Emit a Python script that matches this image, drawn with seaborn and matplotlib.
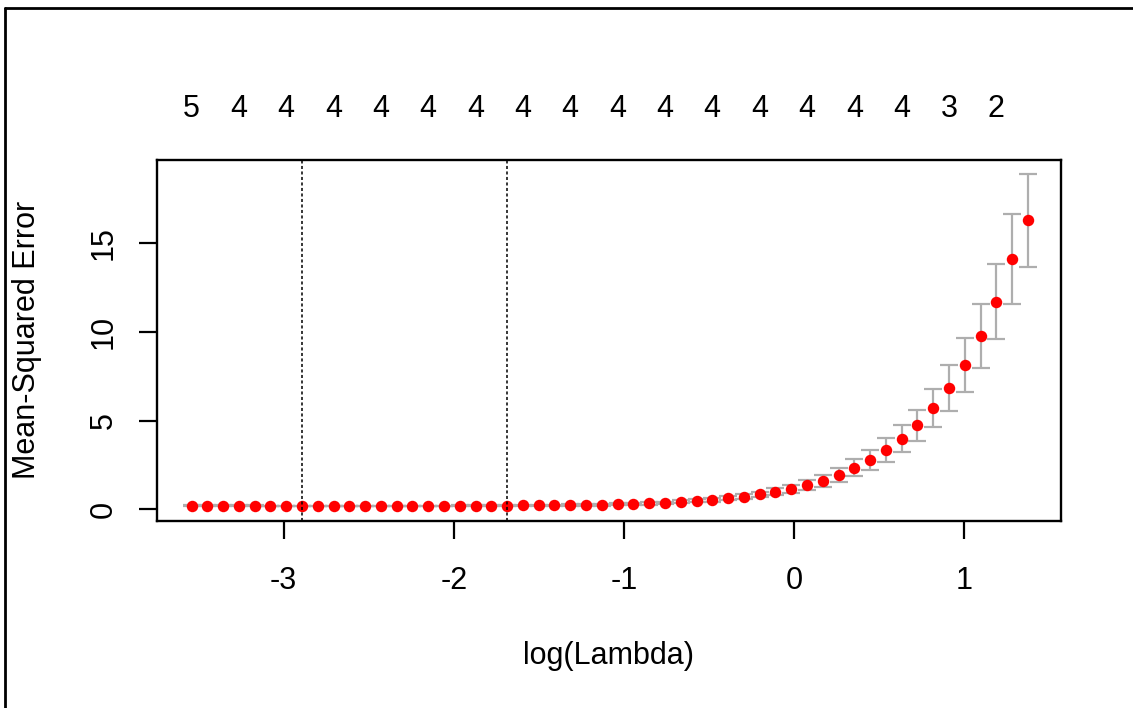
import matplotlib
matplotlib.use("Agg")
import matplotlib.pyplot as plt
from matplotlib.lines import Line2D
import seaborn as sns
import pandas as pd


# ── data ─────────────────────────────────────────────────────────────────
log_lambda = [
    -3.542, -3.449, -3.356, -3.264, -3.171, -3.078, -2.985, -2.892, -2.800, -2.707,
    -2.614, -2.521, -2.428, -2.336, -2.243, -2.150, -2.057, -1.964, -1.872, -1.779,
    -1.686, -1.593, -1.500, -1.408, -1.315, -1.222, -1.129, -1.036, -0.944, -0.851,
    -0.758, -0.665, -0.572, -0.480, -0.387, -0.294, -0.201, -0.108, -0.016, 0.077,
    0.170, 0.263, 0.356, 0.448, 0.541, 0.634, 0.727, 0.820, 0.912, 1.005,
    1.098, 1.191, 1.284, 1.376,
]
mse = [
    0.20, 0.20, 0.20, 0.20, 0.20, 0.19, 0.19, 0.19, 0.19, 0.19,
    0.19, 0.19, 0.19, 0.19, 0.19, 0.19, 0.19, 0.20, 0.20, 0.20,
    0.20, 0.22, 0.22, 0.23, 0.24, 0.25, 0.26, 0.28, 0.30, 0.33,
    0.37, 0.42, 0.48, 0.54, 0.62, 0.72, 0.85, 1.00, 1.17, 1.38,
    1.60, 1.95, 2.35, 2.78, 3.33, 3.98, 4.75, 5.73, 6.82, 8.14,
    9.76, 11.71, 14.12, 16.30,
]
mse_se = [
    0.02, 0.02, 0.02, 0.02, 0.02, 0.02, 0.02, 0.02, 0.02, 0.02,
    0.02, 0.02, 0.02, 0.02, 0.02, 0.02, 0.02, 0.02, 0.02, 0.02,
    0.03, 0.03, 0.03, 0.04, 0.04, 0.04, 0.05, 0.05, 0.06, 0.06,
    0.07, 0.08, 0.09, 0.10, 0.11, 0.13, 0.15, 0.18, 0.22, 0.28,
    0.33, 0.38, 0.47, 0.54, 0.67, 0.76, 0.88, 1.06, 1.30, 1.50,
    1.80, 2.12, 2.56, 2.61,
]
# number of non-zero coefficients, shown at every third lambda
nzero_labels = [5, 4, 4, 4, 4, 4, 4, 4, 4, 4, 4, 4, 4, 4, 4, 4, 3, 2]
lambda_min_log = -2.892
lambda_1se_log = -1.686
x_ticks = [-3, -2, -1, 0, 1]
y_ticks = [0, 5, 10, 15]

df = pd.DataFrame({"log_lambda": log_lambda, "mse": mse, "se": mse_se})

# ── style ────────────────────────────────────────────────────────────────
sns.set_style("ticks")
plt.rcParams["font.family"] = ["Liberation Sans", "DejaVu Sans"]
plt.rcParams["axes.unicode_minus"] = False
FS = 22

W, H = 1133, 708
fig = plt.figure(figsize=(W / 100, H / 100), dpi=100)
fig.patch.set_facecolor("white")
ax = fig.add_axes([157 / W, 1 - 520.7 / H, (1060.5 - 157) / W, (520.7 - 160) / H])
ax.set_facecolor("white")

# error bars first, red points on top
ax.errorbar(df["log_lambda"], df["mse"], yerr=df["se"], fmt="none",
            ecolor="#aeaeae", elinewidth=1.6, capsize=6.2, capthick=1.6, zorder=2)
sns.scatterplot(data=df, x="log_lambda", y="mse", color="red", s=68,
                linewidth=0, ax=ax, zorder=3)

for v in (lambda_min_log, lambda_1se_log):
    ax.axvline(v, color="black", lw=1.1, ls=(0, (2, 1.6)), zorder=4)

ax.set_xlim(-3.745, 1.568)
ax.set_ylim(-0.64, 19.70)

ax.set_xticks(x_ticks)
ax.set_yticks(y_ticks)
ax.tick_params(axis="both", direction="out", length=13, width=1.6,
               labelsize=FS, colors="black")
ax.tick_params(axis="x", pad=19.4)
ax.tick_params(axis="y", pad=14.8, labelrotation=90)
for lbl in ax.get_yticklabels():
    lbl.set_va("center")

for sp in ax.spines.values():
    sp.set_visible(True)
    sp.set_color("black")
    sp.set_linewidth(1.7)

# top axis: counts of non-zero coefficients
top = ax.secondary_xaxis("top")
top.set_xticks(df["log_lambda"].iloc[::3].tolist(),
               labels=[str(n) for n in nzero_labels])
top.tick_params(length=0, pad=26, labelsize=FS, colors="black")
top.spines["top"].set_visible(False)

ax.set_xlabel("log(Lambda)", fontsize=FS, color="black")
ax.set_ylabel("Mean-Squared Error", fontsize=FS, color="black")
ax.xaxis.set_label_coords(0.5, -0.3335)
ax.yaxis.set_label_coords(-0.1273, 0.5)

# the partial frame around the screenshot (left and top edges)
fig.add_artist(Line2D([4.5 / W, 4.5 / W], [0, 1 - 8.3 / H], color="black", lw=2))
fig.add_artist(Line2D([4.5 / W, 1], [1 - 8.3 / H, 1 - 8.3 / H], color="black", lw=2))

fig.savefig("out.png", dpi=100)
